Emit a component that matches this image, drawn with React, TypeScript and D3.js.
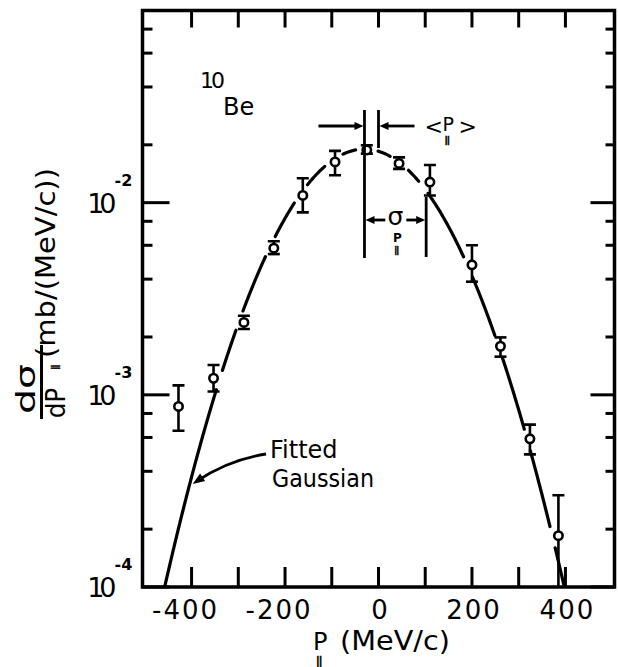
import React from 'react';
import * as d3 from 'd3';

// longitudinal momentum of the 10Be fragments, MeV/c
const momentum = [-428, -353, -288, -224, -162, -93, -25, 44, 110, 200, 261, 324, 385];
// d(sigma)/dp in mb/(MeV/c), with the ends of the error bars
const crossSection = [8.7e-4, 1.22e-3, 2.38e-3, 5.8e-3, 1.09e-2, 1.63e-2, 1.88e-2, 1.6e-2, 1.28e-2, 4.75e-3, 1.79e-3, 5.9e-4, 1.85e-4];
const errLow = [6.5e-4, 1.04e-3, 2.2e-3, 5.4e-3, 8.9e-3, 1.39e-2, 1.8e-2, 1.5e-2, 1.09e-2, 3.88e-3, 1.58e-3, 4.9e-4, 5e-5];
const errHigh = [1.12e-3, 1.43e-3, 2.58e-3, 6.3e-3, 1.34e-2, 1.86e-2, 1.99e-2, 1.72e-2, 1.57e-2, 6.0e-3, 1.99e-3, 7.0e-4, 3.0e-4];

// fitted gaussian: <p>, sigma_p and peak height
const fitMean = -30;
const fitSigma = 132;
const fitPeak = 1.9e-2;

const xTicks = [-400, -300, -200, -100, 0, 100, 200, 300, 400];
const xTickLabels = [-400, -200, 0, 200, 400];
const yDecades = [-4, -3, -2];
const yMinor = [2, 4, 6, 8];

const W = 618;
const H = 667;
const left = 142.5;
const right = 614.5;
const top = 10.5;
const bottom = 587;
const font = '"DejaVu Sans", sans-serif';

const x = d3.scaleLinear().domain([-505, 505]).range([left, right]);
const y = d3.scaleLog().domain([1e-4, 1e-1]).range([bottom, top]);

const gauss = (p: number) => fitPeak * Math.exp(-((p - fitMean) ** 2) / (2 * fitSigma * fitSigma));

// arrow head as a small filled triangle, tip at (tx,ty), pointing along (dx,dy)
const head = (tx: number, ty: number, dx: number, dy: number, len = 9, half = 4) => {
  const n = Math.hypot(dx, dy);
  const ux = dx / n;
  const uy = dy / n;
  const bx = tx - ux * len;
  const by = ty - uy * len;
  return `${tx},${ty} ${bx - uy * half},${by + ux * half} ${bx + uy * half},${by - ux * half}`;
};

// the small "parallel" subscripts, stroked so they stay plain black
const Par = ({ x: px, y: py, size }: { x: number; y: number; size: number }) => (
  <text x={px} y={py} fontSize={size} fontWeight="bold" letterSpacing={-1} fill="#000" stroke="#000" strokeWidth={0.5}>
    ||
  </text>
);

const App = () => {
  const pts = momentum.map((p, i) => [x(p), y(crossSection[i])]);

  // curve is broken where it runs through the data points
  const gapR = 11;
  const segments: [number, number][][] = [];
  let cur: [number, number][] = [];
  d3.range(-500, 501, 1).forEach((p) => {
    const px = x(p);
    const py = y(Math.max(gauss(p), 1e-6));
    const near = pts.some(([cx, cy]) => Math.hypot(px - cx, py - cy) < gapR);
    if (near || py > bottom + 12) {
      if (cur.length > 1) segments.push(cur);
      cur = [];
    } else {
      cur.push([px, py]);
    }
  });
  if (cur.length > 1) segments.push(cur);
  const line = d3.line();

  const muX = x(fitMean);
  const zeroX = x(0);
  const sigX = x(fitMean + fitSigma);
  const midSig = (muX + sigX) / 2;

  // "Fitted Gaussian" pointer
  const tipP = -404;
  const tipX = x(tipP) + 3;
  const tipY = y(gauss(tipP));
  const startX = 266;
  const startY = 454;
  const ctrlX = 228;
  const ctrlY = 460;

  const yMajor = yDecades.map((d) => Math.pow(10, d));
  const yMinorVals = yDecades.flatMap((d) => yMinor.map((m) => m * Math.pow(10, d)));

  return (
    <svg
      width={W}
      height={H}
      style={{ position: 'absolute', left: 0, top: 0, background: '#fff' }}
      fontFamily={font}
    >
      <defs>
        <clipPath id="plot">
          <rect x={left} y={top} width={right - left} height={bottom - top} />
        </clipPath>
      </defs>

      {/* frame */}
      <rect x={left} y={top} width={right - left} height={bottom - top} fill="none" stroke="#000" strokeWidth={3.5} />

      {/* x ticks top and bottom */}
      {xTicks.map((t) => (
        <g key={t} stroke="#000" strokeWidth={3}>
          <line x1={x(t)} x2={x(t)} y1={bottom} y2={bottom - 20} />
          <line x1={x(t)} x2={x(t)} y1={top} y2={top + 17} />
        </g>
      ))}
      {/* y ticks left and right */}
      {yMajor.map((v) => (
        <g key={v} stroke="#000" strokeWidth={3}>
          <line x1={left} x2={left + 27} y1={y(v)} y2={y(v)} />
          <line x1={right} x2={right - 24} y1={y(v)} y2={y(v)} />
        </g>
      ))}
      {yMinorVals.map((v) => (
        <g key={v} stroke="#000" strokeWidth={3}>
          <line x1={left} x2={left + 10} y1={y(v)} y2={y(v)} />
          <line x1={right} x2={right - 9} y1={y(v)} y2={y(v)} />
        </g>
      ))}

      {/* x tick labels */}
      {xTickLabels.map((t) => (
        <text
          key={t}
          x={x(t) + (t < 0 ? -6 : 2)}
          y={619}
          fontSize={26}
          letterSpacing={2}
          textAnchor="middle"
        >
          {String(t)}
        </text>
      ))}
      {/* y tick labels */}
      {yDecades.map((d) => (
        <g key={d}>
          <text x={left - 31} y={y(Math.pow(10, d)) + 10} fontSize={27} textAnchor="end" letterSpacing={-5}>
            10
          </text>
          <text x={left - 28} y={y(Math.pow(10, d)) - 17} fontSize={16} fontWeight="bold">
            {String(d)}
          </text>
        </g>
      ))}

      {/* axis titles */}
      <text x={313} y={650} fontSize={24}>P</text>
      <Par x={316} y={664} size={10} />
      <text x={340} y={650} fontSize={26} textLength={110} lengthAdjust="spacingAndGlyphs">
        (MeV/c)
      </text>

      <g transform="rotate(-90)">
        <text x={-414} y={35} fontSize={26} textLength={50} lengthAdjust="spacingAndGlyphs">
          dσ
        </text>
        <line x1={-419} x2={-345} y1={41.5} y2={41.5} stroke="#000" strokeWidth={3} />
        <text x={-418} y={65} fontSize={26} textLength={30} lengthAdjust="spacingAndGlyphs">
          dP
        </text>
        <Par x={-370} y={58} size={9} />
        <text x={-358} y={55} fontSize={27} textLength={190} lengthAdjust="spacingAndGlyphs">
          (mb/(MeV/c))
        </text>
      </g>

      {/* isotope label */}
      <text x={200} y={88} fontSize={22} letterSpacing={-3}>10</text>
      <text x={223} y={115} fontSize={24}>Be</text>

      {/* fitted gaussian, broken at the points */}
      <g clipPath="url(#plot)">
        {segments.map((s, i) => (
          <path key={i} d={line(s) || ''} fill="none" stroke="#000" strokeWidth={3.2} strokeLinecap="round" />
        ))}
      </g>

      {/* error bars and points */}
      <g clipPath="url(#plot)">
        {momentum.map((p, i) => {
          const cx = x(p);
          const yl = y(Math.max(errLow[i], 1e-5));
          const yh = y(errHigh[i]);
          return (
            <g key={p} stroke="#000" strokeWidth={2.6}>
              <line x1={cx} x2={cx} y1={yl} y2={yh} />
              <line x1={cx - 6} x2={cx + 6} y1={yh} y2={yh} />
              {errLow[i] >= 1e-4 && <line x1={cx - 6} x2={cx + 6} y1={yl} y2={yl} />}
              <circle cx={cx} cy={y(crossSection[i])} r={4.2} fill="#fff" />
            </g>
          );
        })}
      </g>

      {/* <p> and sigma markers */}
      <g stroke="#000" strokeWidth={2.8}>
        <line x1={muX} x2={muX} y1={110} y2={258} />
        <line x1={zeroX} x2={zeroX} y1={110} y2={148} />
        <line x1={muX - 46} x2={muX - 6} y1={126} y2={126} />
        <line x1={zeroX + 36} x2={zeroX + 6} y1={126} y2={126} />
        <line x1={sigX} x2={sigX} y1={197} y2={257} />
        <line x1={muX + 6} x2={midSig - 10} y1={220} y2={220} />
        <line x1={midSig + 11} x2={sigX - 6} y1={220} y2={220} />
      </g>
      <polygon points={head(muX - 1, 126, 1, 0)} fill="#000" />
      <polygon points={head(zeroX + 1, 126, -1, 0)} fill="#000" />
      <polygon points={head(muX + 1, 220, -1, 0)} fill="#000" />
      <polygon points={head(sigX - 1, 220, 1, 0)} fill="#000" />
      <text x={zeroX + 46} y={134} fontSize={22}>&lt;</text>
      <text x={zeroX + 64} y={131} fontSize={19}>P</text>
      <Par x={zeroX + 66} y={143} size={9} />
      <text x={zeroX + 80} y={134} fontSize={22}>&gt;</text>
      <text x={midSig} y={225} fontSize={25} textAnchor="middle">σ</text>
      <text x={midSig + 2} y={242} fontSize={12} fontWeight="bold" textAnchor="middle">P</text>
      <Par x={midSig - 1} y={253} size={8} />

      {/* Fitted Gaussian pointer */}
      <path
        d={`M${startX},${startY} Q${ctrlX},${ctrlY} ${tipX + (ctrlX - tipX) * 0.12},${tipY + (ctrlY - tipY) * 0.12}`}
        fill="none"
        stroke="#000"
        strokeWidth={2.8}
      />
      <polygon points={head(tipX, tipY, tipX - ctrlX, tipY - ctrlY, 12, 4.5)} fill="#000" />
      <text x={270} y={458} fontSize={24}>Fitted</text>
      <text x={272} y={487} fontSize={24} textLength={102} lengthAdjust="spacingAndGlyphs">
        Gaussian
      </text>
    </svg>
  );
};

export default App;
